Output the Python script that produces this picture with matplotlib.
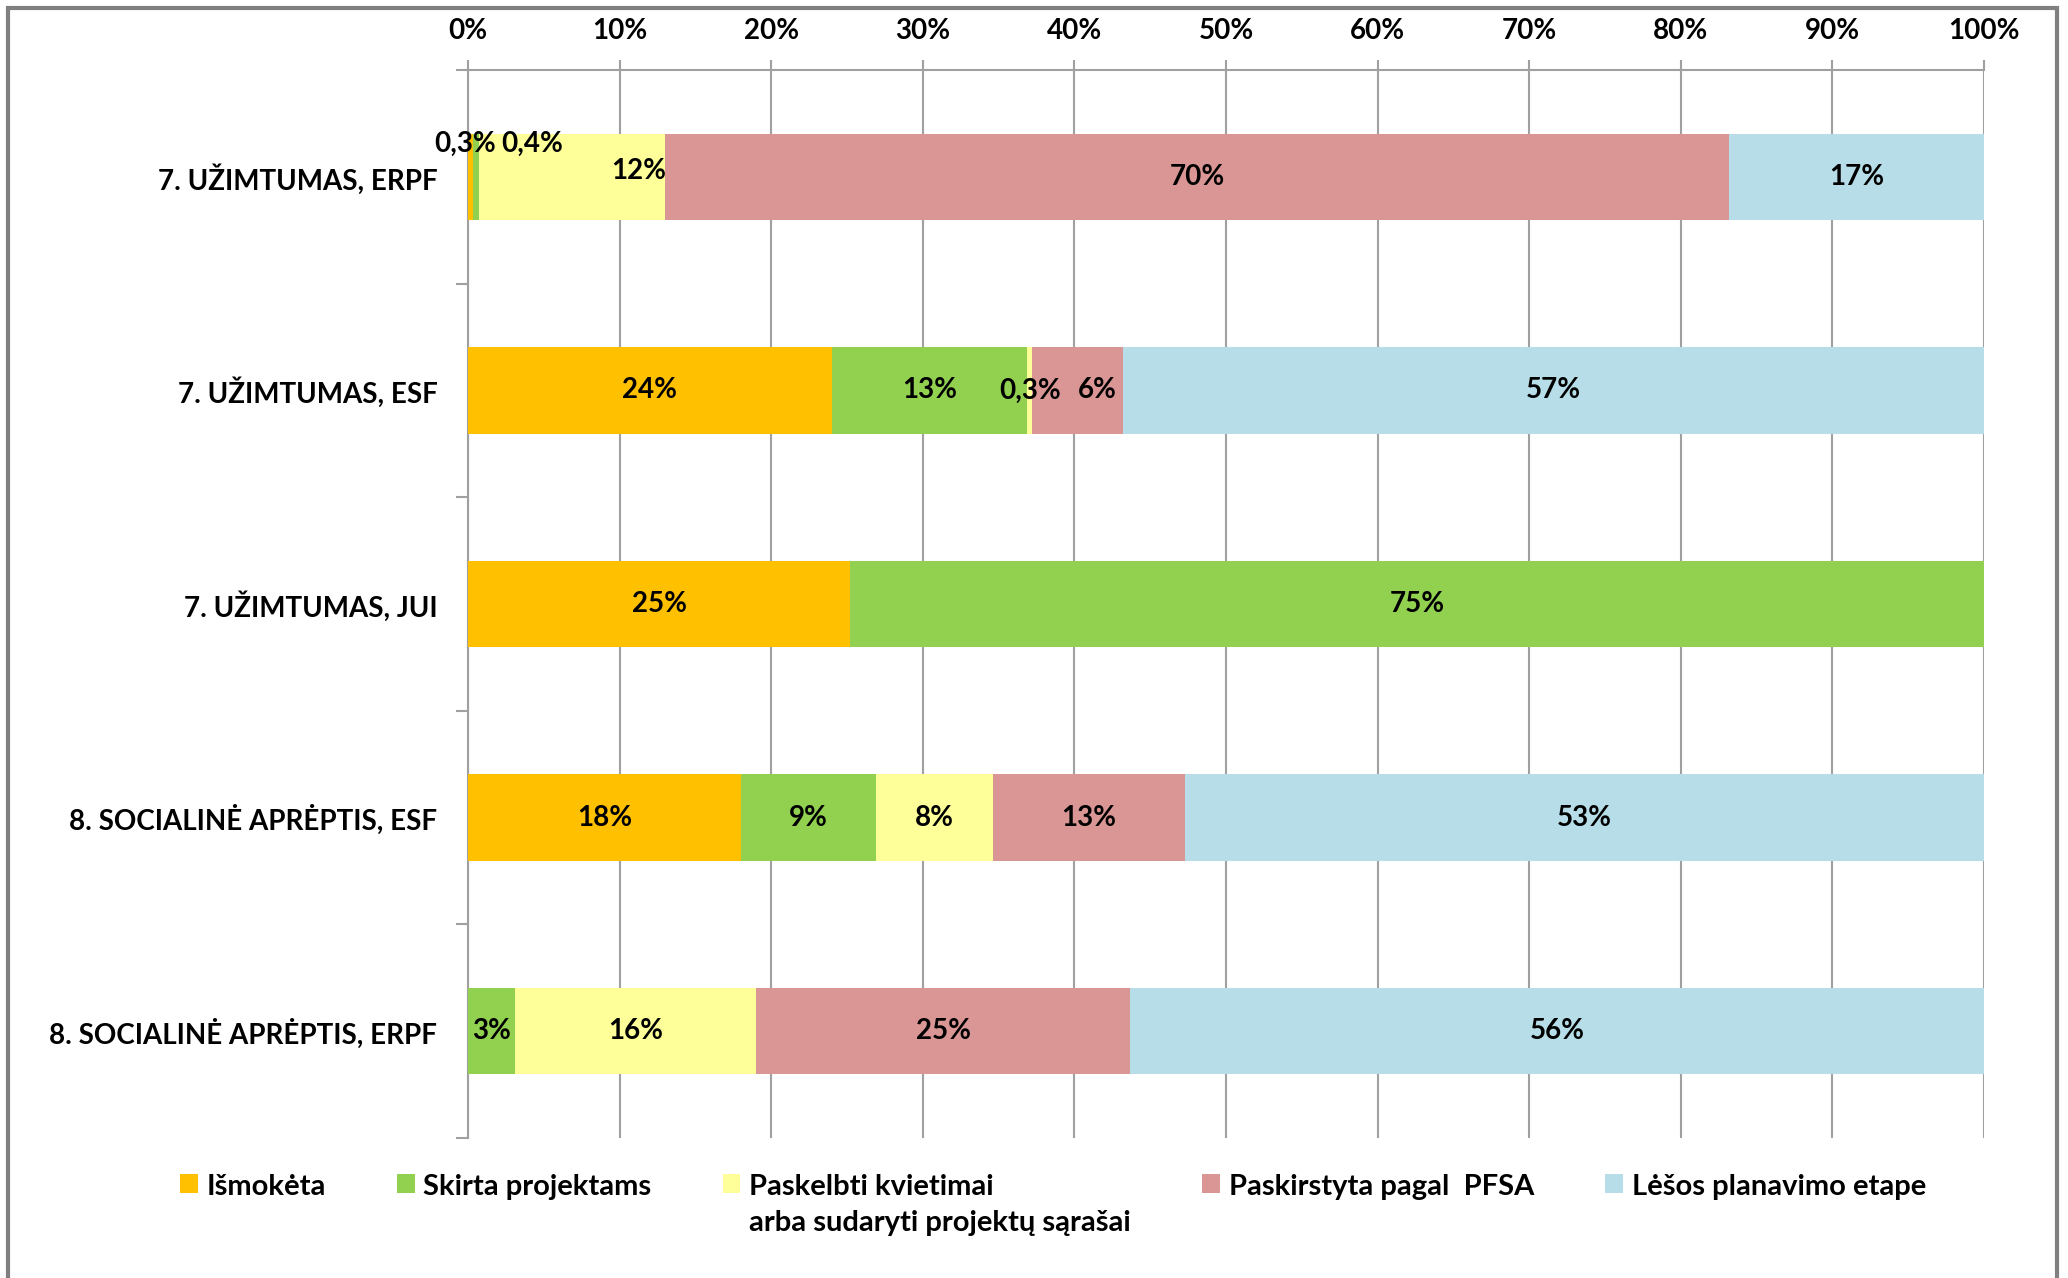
import numpy as np
import matplotlib.pyplot as plt
from matplotlib.patches import Rectangle

categories = ['7. UŽIMTUMAS, ERPF', '7. UŽIMTUMAS, ESF', '7. UŽIMTUMAS, JUI',
              '8. SOCIALINĖ APRĖPTIS, ESF', '8. SOCIALINĖ APRĖPTIS, ERPF']
series_names = ['Išmokėta', 'Skirta projektams',
                'Paskelbti kvietimai\narba sudaryti projektų sąrašai',
                'Paskirstyta pagal  PFSA', 'Lėšos planavimo etape']
colors = ['#FFC000', '#92D050', '#FFFF99', '#D99694', '#B7DEE8']

ismoketa = [0.3, 24.0, 25.2, 18.0, 0.0]
skirta = [0.4, 12.9, 74.8, 8.9, 3.1]
paskelbti = [12.3, 0.3, 0.0, 7.7, 15.9]
paskirstyta = [70.2, 6.0, 0.0, 12.7, 24.7]
lesos = [16.8, 56.8, 0.0, 52.7, 56.3]
series = [ismoketa, skirta, paskelbti, paskirstyta, lesos]

# manual nudges of a few crowded labels (points)
label_offsets = {(0, 0): (-4, 24), (0, 1): (41, 24), (0, 2): (48, 4),
                 (1, 3): (14, 0)}

FONT = 'Lato'
FS = 20
plt.rcParams['font.family'] = [FONT, 'DejaVu Sans']
plt.rcParams['font.weight'] = 'bold'

fig = plt.figure(figsize=(20.68, 12.78), dpi=100)
ax = fig.add_axes([468 / 2068, 1 - 1138 / 1278, (1984 - 468) / 2068, (1138 - 70) / 1278])

y = np.arange(len(categories))
left = np.zeros(len(categories))
for i, (vals, c, name) in enumerate(zip(series, colors, series_names)):
    vals = np.array(vals)
    ax.barh(y, vals, left=left, height=0.405, color=c, label=name, zorder=3)
    for j, v in enumerate(vals):
        if v <= 0:
            continue
        txt = f'{v:.1f}'.replace('.', ',') + '%' if v < 1 else f'{v:.0f}%'
        dx, dy = label_offsets.get((j, i), (0, 0))
        ax.annotate(txt, (left[j] + v / 2, j), xytext=(dx, dy), textcoords='offset points',
                    ha='center', va='center', fontsize=FS, fontweight='bold', zorder=4)
    left += vals

ax.set_xlim(0, 100)
ax.set_ylim(len(categories) - 0.5, -0.5)
ax.xaxis.tick_top()
ax.set_xticks(np.arange(0, 101, 10))
ax.set_xticklabels([f'{t}%' for t in range(0, 101, 10)])
ax.tick_params(axis='x', length=7, color='#A0A0A0', width=1.5, pad=12, labelsize=FS)
ax.grid(axis='x', color='#A0A0A0', linewidth=1.5, zorder=0)

ax.set_yticks(np.arange(-0.5, len(categories)), labels=[])
ax.set_yticks(y, labels=categories, minor=True)
ax.tick_params(axis='y', which='major', length=9, color='#A0A0A0', width=1.5)
ax.tick_params(axis='y', which='minor', length=0, pad=22, labelsize=FS)

for s in ['right', 'bottom']:
    ax.spines[s].set_visible(False)
for s in ['top', 'left']:
    ax.spines[s].set_color('#A0A0A0')
    ax.spines[s].set_linewidth(1.5)

leg = fig.legend(loc='upper left', bbox_to_anchor=(180 / 2068, 1 - 1174 / 1278), ncol=5,
                 frameon=False, fontsize=21, handlelength=0.6, handleheight=0.6,
                 handletextpad=0.3, columnspacing=2.45, borderaxespad=0, borderpad=0)
for t in leg.get_texts():
    t.set_linespacing(1.5)
# align handles with the first text line
leg._legend_handle_box.align = 'top'
for col in leg._legend_handle_box.get_children():
    for hp in col.get_children():
        hp.align = 'top'

fig.patches.append(Rectangle((8 / 2068, -0.01), (2057 - 8) / 2068, 1 - 8 / 1278 + 0.01,
                             transform=fig.transFigure, fill=False,
                             edgecolor='#808080', linewidth=3))

fig.savefig('out.png', dpi=100)
